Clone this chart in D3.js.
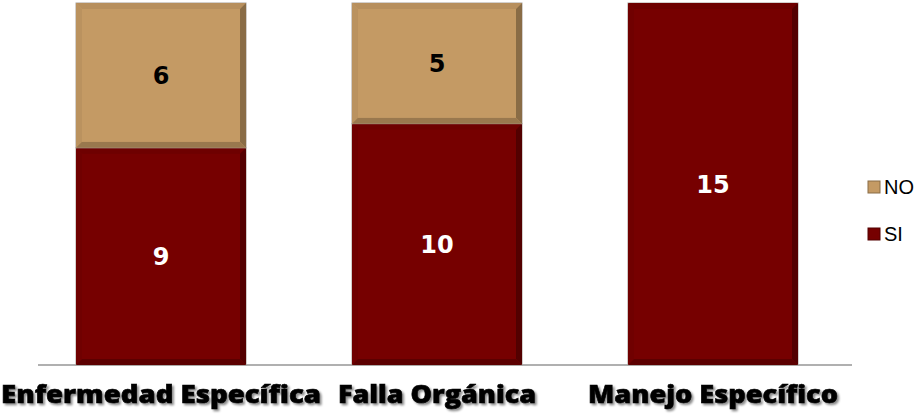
<!DOCTYPE html>
<html>
<head>
<meta charset="utf-8">
<script src="https://cdn.jsdelivr.net/npm/d3@7"></script>
<style>
  body { margin: 0; background: #fff; }
  svg { display: block; }
</style>
</head>
<body>
<svg id="chart"></svg>
<script>
const categories = ['Enfermedad Específica', 'Falla Orgánica', 'Manejo Específico']
const siValues = [9, 10, 15]
const noValues = [6, 5, 0]
const seriesNames = ['SI', 'NO']

const colors = { SI: '#760000', NO: '#C49A64' }
const labelColors = { SI: '#ffffff', NO: '#000000' }

const W = 922, H = 414
const margin = { top: 3, bottom: 49, left: 38, right: 70 }
const baseY = H - margin.bottom

const svg = d3.select('#chart').attr('width', W).attr('height', H)

const defs = svg.append('defs')
const sh = defs.append('filter').attr('id', 'txtShadow').attr('x', '-10%').attr('y', '-20%').attr('width', '120%').attr('height', '150%')
sh.append('feDropShadow').attr('dx', 2).attr('dy', 2).attr('stdDeviation', 1).attr('flood-color', '#000').attr('flood-opacity', 0.45)

const x = d3.scaleBand()
  .domain(categories)
  .range([margin.left, 836])
  .paddingInner(0.384)
  .paddingOuter(0.1377)

const y = d3.scaleLinear()
  .domain([0, 15])
  .range([baseY, margin.top])

const rows = categories.map((c, i) => ({ cat: c, SI: siValues[i], NO: noValues[i] }))
const stacked = d3.stack().keys(seriesNames)(rows)

// baseline
svg.append('line')
  .attr('x1', margin.left).attr('x2', 852)
  .attr('y1', baseY).attr('y2', baseY)
  .attr('stroke', '#b0b0b0').attr('stroke-width', 2)

function bevel(g, x0, y0, w, h, color) {
  const b = 6
  const c = d3.color(color)
  g.append('rect').attr('x', x0).attr('y', y0).attr('width', w).attr('height', h)
    .attr('fill', color).attr('stroke', '#a8a29c').attr('stroke-width', 1)
  const x1 = x0 + w, y1 = y0 + h
  const poly = (pts, fill) => g.append('polygon')
    .attr('points', pts.map(p => p.join(',')).join(' ')).attr('fill', fill)
  poly([[x0, y0], [x1, y0], [x1 - b, y0 + b], [x0 + b, y0 + b]], c.darker(0.2))
  poly([[x0, y0], [x0 + b, y0 + b], [x0 + b, y1 - b], [x0, y1]], c.darker(0.15))
  poly([[x1, y0], [x1, y1], [x1 - b, y1 - b], [x1 - b, y0 + b]], c.darker(1.0))
  poly([[x0, y1], [x0 + b, y1 - b], [x1 - b, y1 - b], [x1, y1]], c.darker(0.7))
  g.append('rect').attr('x', x0 + b).attr('y', y0 + b).attr('width', w - 2 * b).attr('height', h - 2 * b)
    .attr('fill', color)
}

stacked.forEach(s => {
  const key = s.key
  s.forEach(d => {
    const v = d[1] - d[0]
    if (v <= 0) return
    const g = svg.append('g')
    const x0 = x(d.data.cat)
    bevel(g, x0, y(d[1]), x.bandwidth(), y(d[0]) - y(d[1]), colors[key])
    g.append('text')
      .attr('x', x0 + x.bandwidth() / 2)
      .attr('y', (y(d[0]) + y(d[1])) / 2)
      .attr('dy', '0.36em')
      .attr('text-anchor', 'middle')
      .attr('font-family', 'Verdana, "DejaVu Sans", sans-serif')
      .attr('font-weight', 'bold')
      .attr('font-size', 24)
      .attr('fill', labelColors[key])
      .text(v)
  })
})

// category axis
const xAxis = svg.append('g')
  .attr('transform', `translate(0,${baseY})`)
  .call(d3.axisBottom(x).tickSize(0).tickPadding(20))
xAxis.select('.domain').remove()
xAxis.selectAll('text')
  .attr('font-family', '"Open Sans", sans-serif')
  .attr('font-weight', 800)
  .attr('font-size', 25)
  .attr('fill', '#000')
  .attr('stroke', '#000').attr('stroke-width', 0.6)
  .attr('filter', 'url(#txtShadow)')
  .attr('textLength', (d, i) => [320, 198, 250][i])
  .attr('lengthAdjust', 'spacingAndGlyphs')

// legend
const legend = svg.append('g')
const legendItems = ['NO', 'SI']
legendItems.forEach((k, i) => {
  const ly = 187 + i * 47
  const lg = legend.append('g')
  lg.append('rect').attr('x', 868).attr('y', ly - 6).attr('width', 12).attr('height', 12)
    .attr('fill', colors[k]).attr('stroke', d3.color(colors[k]).darker(1)).attr('stroke-width', 1)
  lg.append('text').attr('x', 884).attr('y', ly).attr('dy', '0.36em')
    .attr('font-family', '"Liberation Sans", Arial, sans-serif')
    .attr('font-size', 20).attr('fill', '#000').text(k)
})
</script>
</body>
</html>
